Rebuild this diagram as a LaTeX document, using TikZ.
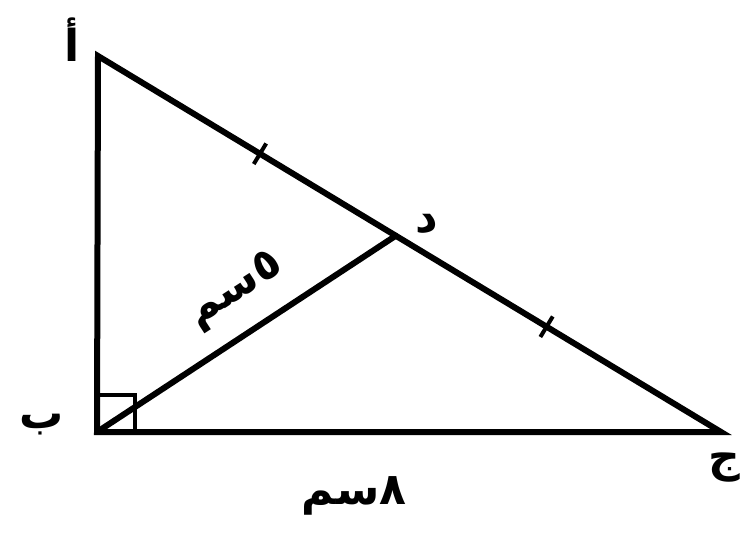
\documentclass[tikz,border=0pt]{standalone}
\usepackage{fontspec}
\usetikzlibrary{calc}
\TeXXeTstate=1
\newfontfamily\arabicfont[Script=Arabic]{DejaVu Sans}
\begin{document}
\begin{tikzpicture}[x=1pt,y=-1pt,
  edge/.style={line width=6pt,line cap=round,line join=miter},
  lbl/.style={font=\arabicfont\bfseries\fontsize{44}{48}\selectfont,inner sep=0pt}]
\useasboundingbox (0,0) rectangle (749,537);
\coordinate (A) at (98,56);
\coordinate (B) at (97,432);
\coordinate (C) at (721,432);
\coordinate (D) at ($(A)!0.478!(C)$);
\draw[edge] (A) -- (B) -- (C) -- cycle;
\draw[edge] (B) -- (D);
\draw[line width=4pt] (B) ++(0,-37) -- ++(38,0) -- ++(0,37);
\coordinate (T1) at ($(A)!0.26!(C)$);
\coordinate (T2) at ($(A)!0.72!(C)$);
\draw[line width=4pt] ($(T1)!12pt!90:(C)$) -- ($(T1)!12pt!-90:(C)$);
\draw[line width=4pt] ($(T2)!12pt!90:(C)$) -- ($(T2)!12pt!-90:(C)$);
\node[lbl] (la) at (72,40) {\beginR أ\endR};
\node[lbl] (lb) at (42,425) {\beginR ب\endR};
\node[lbl] (lc) at (724,468) {\beginR ج\endR};
\node[lbl] (ld) at (427,224) {\beginR د\endR};
\node[lbl,rotate=33] (l5) at (236,291) {\beginR ٥سم\endR};
\node[lbl] (l8) at (354,496) {\beginR ٨سم\endR};
\end{tikzpicture}
\end{document}
